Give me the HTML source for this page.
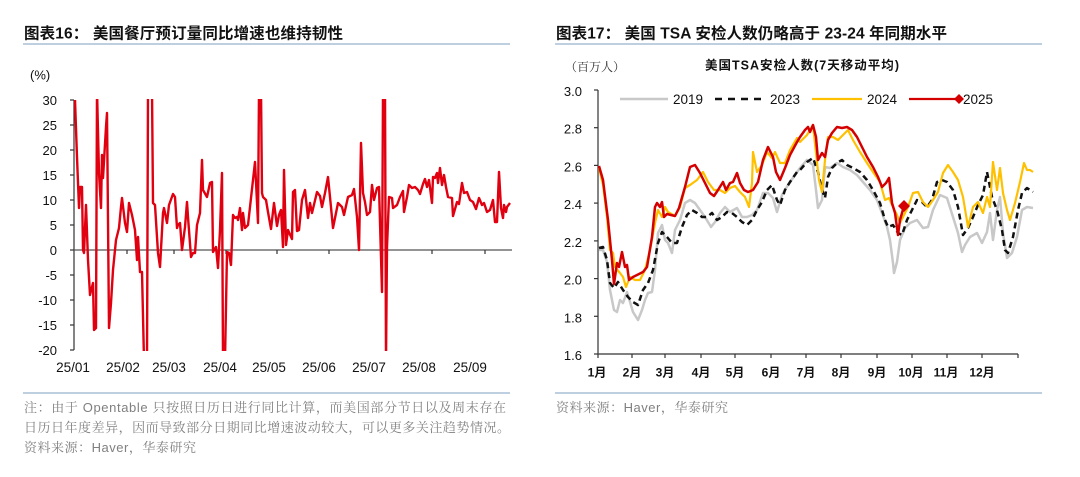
<!DOCTYPE html>
<html><head><meta charset="utf-8">
<style>
html,body{margin:0;padding:0;background:#fff;}
svg{display:block;}
.t{font-family:"Liberation Sans","Noto Sans CJK SC",sans-serif;font-weight:bold;font-size:15.5px;fill:#111;}
.ax{font-family:"Liberation Sans","Noto Sans CJK SC",sans-serif;font-size:13px;fill:#111;}
.mo{font-family:"Liberation Sans","Noto Sans CJK SC",sans-serif;font-size:12px;font-weight:bold;fill:#111;}
.fn{font-family:"Liberation Sans","Noto Serif CJK SC",serif;font-size:13px;fill:#808080;}
.st{font-family:"Liberation Sans","Noto Sans CJK SC",sans-serif;font-size:12.5px;font-weight:bold;fill:#111;}
.un{font-family:"Liberation Sans","Noto Serif CJK SC",serif;font-size:12px;fill:#333;}
</style></head>
<body>
<svg width="1080" height="477" viewBox="0 0 1080 477" xmlns="http://www.w3.org/2000/svg">
<defs>
<clipPath id="cl"><rect x="74" y="99" width="445" height="252"/></clipPath>
</defs>

<!-- ========== LEFT CHART ========== -->
<text class="t" x="24" y="38.5" textLength="319">图表16： 美国餐厅预订量同比增速也维持韧性</text>
<line x1="23" y1="44" x2="510" y2="44" stroke="#a9c0d6" stroke-width="1.5"/>

<text class="ax" x="30" y="79.5">(%)</text>
<g class="ax" text-anchor="end">
<text x="57" y="105">30</text>
<text x="57" y="130">25</text>
<text x="57" y="155">20</text>
<text x="57" y="180">15</text>
<text x="57" y="205">10</text>
<text x="57" y="230">5</text>
<text x="57" y="255">0</text>
<text x="57" y="280">-5</text>
<text x="57" y="305">-10</text>
<text x="57" y="330">-15</text>
<text x="57" y="355">-20</text>
</g>
<g stroke="#333" stroke-width="1.2">
<line x1="74" y1="100" x2="74" y2="350"/>
<line x1="70" y1="100" x2="74" y2="100"/>
<line x1="70" y1="125" x2="74" y2="125"/>
<line x1="70" y1="150" x2="74" y2="150"/>
<line x1="70" y1="175" x2="74" y2="175"/>
<line x1="70" y1="200" x2="74" y2="200"/>
<line x1="70" y1="225" x2="74" y2="225"/>
<line x1="70" y1="250" x2="74" y2="250"/>
<line x1="70" y1="275" x2="74" y2="275"/>
<line x1="70" y1="300" x2="74" y2="300"/>
<line x1="70" y1="325" x2="74" y2="325"/>
<line x1="70" y1="350" x2="74" y2="350"/>
<line x1="74" y1="250" x2="512" y2="250" stroke="#555"/>
<line x1="127" y1="250" x2="127" y2="254"/>
<line x1="174" y1="250" x2="174" y2="254"/>
<line x1="226" y1="250" x2="226" y2="254"/>
<line x1="277" y1="250" x2="277" y2="254"/>
<line x1="329" y1="250" x2="329" y2="254"/>
<line x1="381" y1="250" x2="381" y2="254"/>
<line x1="432" y1="250" x2="432" y2="254"/>
<line x1="485" y1="250" x2="485" y2="254"/>
</g>
<g class="ax" text-anchor="middle" style="font-size:13.5px">
<text x="73" y="372">25/01</text>
<text x="123" y="372">25/02</text>
<text x="169" y="372">25/03</text>
<text x="220" y="372">25/04</text>
<text x="269" y="372">25/05</text>
<text x="319" y="372">25/06</text>
<text x="369" y="372">25/07</text>
<text x="419" y="372">25/08</text>
<text x="470" y="372">25/09</text>
</g>

<polyline clip-path="url(#cl)" fill="none" stroke="#e00010" stroke-width="2.4" stroke-linejoin="round" points="75,100 77,157 79,208 80,187 82,187 83,250 84,253 86,205 88,260 90,295 93,283 94,330 96,328 97,90 99,173 101,208 102,155 103,178 106,127 107,113 109,328 111,303 113,270 116,240 119,228 121,207 122,198 125,223 127,232 129,203 132,215 135,230 137,260 138,237 140,272 142,272 144,360 147,360 148,90 152,90 153,203 155,205 158,253 160,267 163,213 164,208 167,223 169,205 173,194 175,197 177,228 178,225 180,223 182,250 185,227 187,202 188,217 191,257 193,253 195,253 197,225 200,213 202,160 203,190 207,197 210,183 212,182 213,252 216,247 218,268 220,230 222,173 223,360 225,360 227,252 229,253 231,265 233,215 235,218 237,217 238,220 240,208 242,230 243,213 245,228 248,225 250,207 253,180 255,162 256,182 258,223 259,90 261,90 262,193 263,197 266,200 268,212 271,229 274,203 277,226 279,215 281,210 283,247 284,170 286,245 288,230 292,239 293,192 295,190 297,231 299,230 302,200 305,190 308,218 310,203 312,213 317,192 320,196 322,207 325,193 328,177 330,197 333,228 338,203 342,207 344,215 348,197 352,195 354,189 357,217 359,250 361,143 363,193 365,202 367,215 370,212 372,185 374,200 377,188 379,187 382,292 383,90 385,90 386,360 387,247 389,197 392,198 393,208 397,205 400,197 403,191 404,212 407,197 409,185 412,188 415,187 418,190 420,194 423,184 425,179 427,187 429,180 432,203 433,177 435,178 437,173 438,183 440,168 442,185 444,175 446,187 448,197 452,198 453,216 457,202 459,204 462,183 464,193 467,192 470,200 473,202 476,209 479,198 482,205 484,203 487,212 490,210 493,200 495,222 497,222 499,172 501,208 503,218 504,205 506,212 507,207 510,203"/>

<line x1="23" y1="393" x2="510" y2="393" stroke="#a9c0d6" stroke-width="1.5"/>
<text class="fn" x="24" y="412" textLength="482">注：由于 Opentable 只按照日历日进行同比计算，而美国部分节日以及周末存在</text>
<text class="fn" x="24" y="432" textLength="486">日历日年度差异，因而导致部分日期同比增速波动较大，可以更多关注趋势情况。</text>
<text class="fn" x="24" y="452" textLength="172">资料来源：Haver，华泰研究</text>

<!-- ========== RIGHT CHART ========== -->
<text class="t" x="556" y="38.5" textLength="391">图表17： 美国 TSA 安检人数仍略高于 23-24 年同期水平</text>
<line x1="555" y1="44" x2="1042" y2="44" stroke="#a9c0d6" stroke-width="1.5"/>

<text class="un" x="565" y="71" textLength="60">（百万人）</text>
<text class="st" x="705" y="69.5" textLength="194">美国TSA安检人数(7天移动平均)</text>

<g class="ax" text-anchor="end">
<text x="582" y="96">3.0</text>
<text x="582" y="133.7">2.8</text>
<text x="582" y="171.4">2.6</text>
<text x="582" y="209.1">2.4</text>
<text x="582" y="246.9">2.2</text>
<text x="582" y="284.6">2.0</text>
<text x="582" y="322.3">1.8</text>
<text x="582" y="360">1.6</text>
</g>
<g stroke="#333" stroke-width="1.2">
<line x1="598" y1="90" x2="598" y2="354"/>
<line x1="594" y1="90" x2="598" y2="90"/>
<line x1="594" y1="127.7" x2="598" y2="127.7"/>
<line x1="594" y1="165.4" x2="598" y2="165.4"/>
<line x1="594" y1="203.1" x2="598" y2="203.1"/>
<line x1="594" y1="240.9" x2="598" y2="240.9"/>
<line x1="594" y1="278.6" x2="598" y2="278.6"/>
<line x1="594" y1="316.3" x2="598" y2="316.3"/>
<line x1="594" y1="354" x2="598" y2="354"/>
<line x1="598" y1="354" x2="1018" y2="354" stroke="#555" stroke-width="1.5"/>
<line x1="598" y1="354" x2="598" y2="358"/>
<line x1="632" y1="354" x2="632" y2="358"/>
<line x1="665" y1="354" x2="665" y2="358"/>
<line x1="701" y1="354" x2="701" y2="358"/>
<line x1="735" y1="354" x2="735" y2="358"/>
<line x1="771" y1="354" x2="771" y2="358"/>
<line x1="806" y1="354" x2="806" y2="358"/>
<line x1="841" y1="354" x2="841" y2="358"/>
<line x1="877" y1="354" x2="877" y2="358"/>
<line x1="912" y1="354" x2="912" y2="358"/>
<line x1="947" y1="354" x2="947" y2="358"/>
<line x1="982" y1="354" x2="982" y2="358"/>
<line x1="1018" y1="354" x2="1018" y2="358"/>
</g>
<g class="mo" text-anchor="middle">
<text x="597" y="376.5">1月</text>
<text x="632" y="376.5">2月</text>
<text x="665" y="376.5">3月</text>
<text x="701" y="376.5">4月</text>
<text x="735" y="376.5">5月</text>
<text x="771" y="376.5">6月</text>
<text x="806" y="376.5">7月</text>
<text x="841" y="376.5">8月</text>
<text x="877" y="376.5">9月</text>
<text x="911" y="376.5">10月</text>
<text x="946" y="376.5">11月</text>
<text x="982" y="376.5">12月</text>
</g>

<!-- legend -->
<line x1="620" y1="99" x2="668" y2="99" stroke="#c8c8c8" stroke-width="2.5"/>
<text class="ax" x="673" y="104" style="font-size:13.5px">2019</text>
<line x1="715" y1="99" x2="763" y2="99" stroke="#111" stroke-width="2.5" stroke-dasharray="7,6"/>
<text class="ax" x="770" y="104" style="font-size:13.5px">2023</text>
<line x1="812" y1="99" x2="862" y2="99" stroke="#ffc000" stroke-width="2.2"/>
<text class="ax" x="867" y="104" style="font-size:13.5px">2024</text>
<line x1="909" y1="99" x2="958" y2="99" stroke="#d40000" stroke-width="2.2"/>
<polygon points="959,94 964,99 959,104 954,99" fill="#d40000"/>
<text class="ax" x="963" y="104" style="font-size:13.5px">2025</text>

<!-- series -->
<polyline fill="none" stroke="#c8c8c8" stroke-width="2.5" stroke-linejoin="round" points="599,250 603,250 607,262 610,290 614,310 617,312 620,300 623,303 627,292 630,302 633,312 638,320 642,310 645,300 648,293 652,292 655,270 658,233 662,225 665,240 668,243 672,253 675,230 680,220 685,203 690,200 695,203 700,210 705,217 711,227 715,222 720,213 725,207 730,212 737,208 742,217 747,217 752,215 757,210 763,193 768,193 773,198 777,212 782,195 788,185 795,175 800,168 807,160 813,165 816,190 818,208 822,200 825,167 830,168 837,163 843,167 850,170 857,175 863,182 870,190 877,200 882,213 887,227 890,240 893,263 894,273 897,262 900,240 905,228 910,223 917,220 923,228 928,227 933,210 940,195 947,198 953,217 958,233 962,252 965,245 970,237 977,233 982,243 987,232 990,213 993,240 997,210 1000,197 1003,233 1007,258 1012,253 1017,237 1022,210 1027,207 1033,208"/>
<polyline fill="none" stroke="#111" stroke-width="2.5" stroke-dasharray="6,4" stroke-linejoin="round" points="599,248 603,247 607,260 610,283 614,288 618,282 623,290 628,297 633,302 638,305 643,290 648,283 653,270 658,243 662,232 667,237 672,243 677,243 682,227 687,215 692,210 697,213 702,217 707,217 712,213 717,220 722,217 727,212 732,213 737,217 742,222 747,225 752,220 757,210 762,202 767,190 772,185 777,200 780,205 785,190 790,182 797,172 800,170 807,162 813,158 818,172 822,190 825,198 828,177 832,168 837,163 842,160 847,165 853,168 860,172 867,180 873,190 880,203 885,220 888,227 893,225 898,233 902,235 907,220 912,210 917,200 922,202 927,207 932,200 937,182 942,180 947,182 953,190 958,207 963,235 968,228 973,217 978,205 983,195 987,172 992,197 997,210 1002,230 1005,250 1008,253 1013,237 1018,210 1022,193 1027,188 1033,192"/>
<polyline fill="none" stroke="#ffc000" stroke-width="2.2" stroke-linejoin="round" points="599,168 603,185 607,217 610,250 613,253 615,267 620,273 623,277 626,287 630,277 635,280 640,280 645,270 650,250 655,223 658,210 662,217 665,207 668,212 675,216 680,207 685,188 690,185 697,180 703,172 708,182 714,190 720,190 725,193 730,188 735,186 740,192 745,197 749,207 752,183 753,152 757,172 762,165 767,152 772,158 775,152 780,163 785,163 790,150 797,138 800,142 807,135 813,125 816,153 819,180 822,192 825,160 828,137 833,137 838,140 843,135 848,130 853,140 860,152 867,163 873,172 880,182 885,200 889,198 893,207 897,215 900,223 903,217 908,207 913,193 918,192 923,202 928,207 933,200 938,192 943,173 948,165 953,172 958,180 963,197 968,227 973,207 978,202 983,213 987,197 990,207 993,162 997,190 1000,168 1003,193 1007,210 1010,220 1015,203 1020,182 1024,163 1027,170 1030,170 1033,172"/>
<polyline fill="none" stroke="#d40000" stroke-width="2.5" stroke-linejoin="round" points="599,166 603,180 608,220 612,260 614,284 617,263 619,267 622,252 625,267 627,265 629,280 633,277 643,272 647,267 652,237 655,207 657,203 660,207 662,202 664,217 667,214 675,216 679,208 685,187 690,167 695,165 700,173 705,183 710,193 714,196 718,190 723,182 726,190 730,183 733,182 737,173 740,183 744,190 748,192 753,190 758,182 763,160 768,147 773,157 776,172 780,180 785,168 790,155 797,142 800,137 805,130 808,127 810,132 813,125 816,137 818,160 822,153 825,157 828,140 832,133 837,127 842,128 847,127 852,130 857,137 860,143 867,157 873,167 878,177 882,187 886,183 889,178 892,203 895,213 898,235 900,220 904,206"/>
<polygon points="904,200 910,206 904,212 898,206" fill="#d40000"/>

<line x1="555" y1="393" x2="1042" y2="393" stroke="#a9c0d6" stroke-width="1.5"/>
<text class="fn" x="556" y="412" textLength="172">资料来源：Haver，华泰研究</text>
</svg>
</body></html>
